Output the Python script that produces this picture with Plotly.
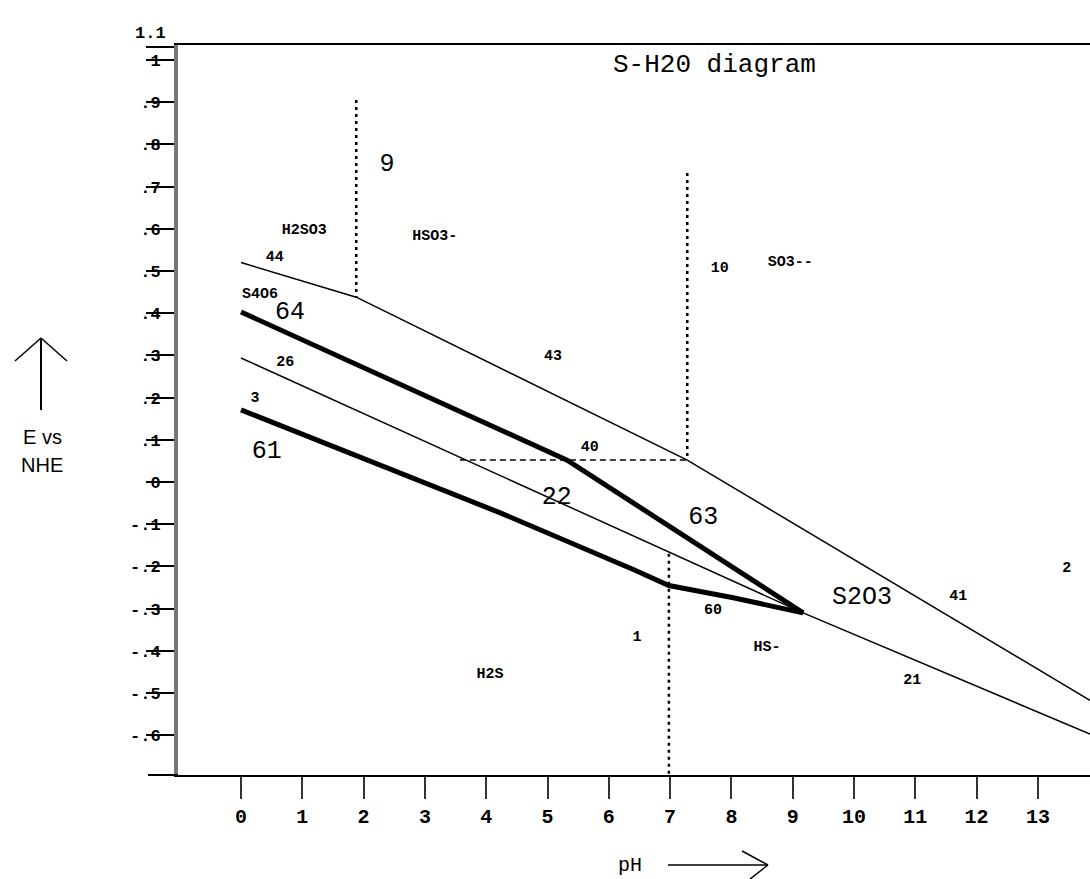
import plotly.graph_objects as go

# ---------------- data (pH, E vs NHE in volts) ----------------
ph_upper = [0.0, 1.88, 7.28, 13.85]
e_upper = [0.52, 0.438, 0.052, -0.517]

ph_thick_top = [0.0, 5.32, 9.17]          # boundaries 64 / 63
e_thick_top = [0.403, 0.052, -0.31]

ph_line26 = [0.0, 9.17]
e_line26 = [0.294, -0.31]

ph_thick_low = [0.0, 4.23, 6.4, 6.98, 8.03, 9.17]   # boundaries 61 / 60
e_thick_low = [0.171, -0.073, -0.207, -0.245, -0.274, -0.31]

ph_lower = [9.17, 13.85]                  # boundary 21
e_lower = [-0.31, -0.597]

ph_vdot1 = [1.88, 1.88]
e_vdot1 = [0.905, 0.438]
ph_vdot2 = [7.28, 7.28]
e_vdot2 = [0.732, 0.052]
ph_vdot3 = [6.98, 6.98]
e_vdot3 = [-0.17, -0.694]
ph_hdash = [3.57, 7.28]
e_hdash = [0.052, 0.052]

# labels
big_text = ["9", "64", "61", "22", "63", "S2O3"]
big_ph = [2.38, 0.80, 0.42, 5.15, 7.54, 10.13]
big_e = [0.751, 0.400, 0.071, -0.038, -0.085, -0.275]

small_text = ["H2SO3", "HSO3-", "44", "S4O6", "26", "3", "43", "40", "60",
              "41", "2", "21", "1", "HS-", "H2S", "10", "SO3--"]
small_ph = [1.03, 3.16, 0.55, 0.31, 0.72, 0.23, 5.09, 5.69, 7.70,
            11.70, 13.47, 10.95, 6.46, 8.58, 4.06, 7.81, 8.96]
small_e = [0.597, 0.583, 0.533, 0.445, 0.284, 0.199, 0.299, 0.083, -0.303,
           -0.270, -0.204, -0.469, -0.367, -0.391, -0.455, 0.507, 0.521]

x_ticks = list(range(0, 14))
x_ticktext = [str(v) for v in x_ticks]
y_ticks = [1.03, 1.0, 0.9, 0.8, 0.7, 0.6, 0.5, 0.4, 0.3, 0.2, 0.1, 0.0,
           -0.1, -0.2, -0.3, -0.4, -0.5, -0.6]
y_ticktext = ["", "1", ".9", ".8", ".7", ".6", ".5", ".4", ".3", ".2", ".1", "0",
              "-.1", "-.2", "-.3", "-.4", "-.5", "-.6"]
top_label = "1.1"

MONO = "Liberation Mono"
fig = go.Figure()

def add_line(xs, ys, width, dash="solid"):
    fig.add_trace(go.Scatter(x=xs, y=ys, mode="lines", showlegend=False,
                             hoverinfo="skip",
                             line=dict(color="black", width=width, dash=dash)))

add_line(ph_upper, e_upper, 1.5)
add_line(ph_line26, e_line26, 1.5)
add_line(ph_lower, e_lower, 1.5)
add_line(ph_thick_top, e_thick_top, 5)
add_line(ph_thick_low, e_thick_low, 5)
add_line(ph_vdot1, e_vdot1, 2.5, "3px,4px")
add_line(ph_vdot2, e_vdot2, 2.5, "3px,4px")
add_line(ph_vdot3, e_vdot3, 2.5, "3px,4px")
add_line(ph_hdash, e_hdash, 1.5, "6px,4px")

fig.add_trace(go.Scatter(x=big_ph, y=big_e, mode="text", text=big_text,
                         showlegend=False, hoverinfo="skip",
                         textfont=dict(family=MONO, size=25, color="black")))
fig.add_trace(go.Scatter(x=small_ph, y=small_e, mode="text", text=small_text,
                         showlegend=False, hoverinfo="skip",
                         textfont=dict(family=MONO, size=15, color="black",
                                       weight="bold")))

# title text inside the plot
fig.add_annotation(x=7.73, y=0.988, text="S-H20 diagram", showarrow=False,
                   xanchor="center", yanchor="middle",
                   font=dict(family=MONO, size=26, color="black"))

W, H = 1090, 879
L, R, T, B = 178, 0, 45, 104
pw, ph_ = W - L - R, H - T - B

def px(xp, yp):
    return (xp - L) / pw, (H - B - yp) / ph_

def seg(x0p, y0p, x1p, y1p, width=1.5, color="black"):
    a = px(x0p, y0p)
    b = px(x1p, y1p)
    fig.add_shape(type="line", xref="paper", yref="paper",
                  x0=a[0], y0=a[1], x1=b[0], y1=b[1],
                  line=dict(color=color, width=width))

# extension of the bottom axis line to the left
seg(148, 775, 178, 775, 2)
# E arrow
seg(41, 410, 41, 338, 2)
seg(15, 361, 41, 338, 1.5)
seg(67, 361, 41, 338, 1.5)
# pH arrow
seg(668, 865, 768, 865, 1.5)
seg(742, 851, 768, 865, 1.5)
seg(750, 879, 768, 865, 1.5)

def label(xp, yp, text, family, size, weight="normal"):
    a = px(xp, yp)
    fig.add_annotation(xref="paper", yref="paper", x=a[0], y=a[1],
                       text=text, showarrow=False,
                       xanchor="center", yanchor="middle",
                       font=dict(family=family, size=size, color="black",
                                 weight=weight))

label(150, 34, top_label, MONO, 17, "bold")
label(42, 437, "E vs", "Liberation Sans", 20)
label(42, 465, "NHE", "Liberation Sans", 20)
label(630, 865, "pH", MONO, 20)

fig.update_layout(
    width=W, height=H,
    margin=dict(l=L, r=R, t=T, b=B, pad=0),
    paper_bgcolor="white", plot_bgcolor="white",
    showlegend=False,
    xaxis=dict(range=[-1.028, 13.85], tickmode="array", tickvals=x_ticks,
               ticktext=x_ticktext, ticks="outside", ticklen=22, tickwidth=2,
               tickcolor="#333", showline=True, linecolor="black", linewidth=2,
               mirror=True, showgrid=False, zeroline=False,
               tickfont=dict(family=MONO, size=20, color="black", weight="bold")),
    yaxis=dict(range=[-0.694, 1.0355], tickmode="array", tickvals=y_ticks,
               ticktext=y_ticktext, ticks="outside", ticklen=28, tickwidth=2,
               tickcolor="black", showline=True, linecolor="#777", linewidth=4,
               showgrid=False, zeroline=False, ticklabelstandoff=-18,
               tickfont=dict(family=MONO, size=17, color="black", weight="bold")),
)

fig.write_html("out.html")
